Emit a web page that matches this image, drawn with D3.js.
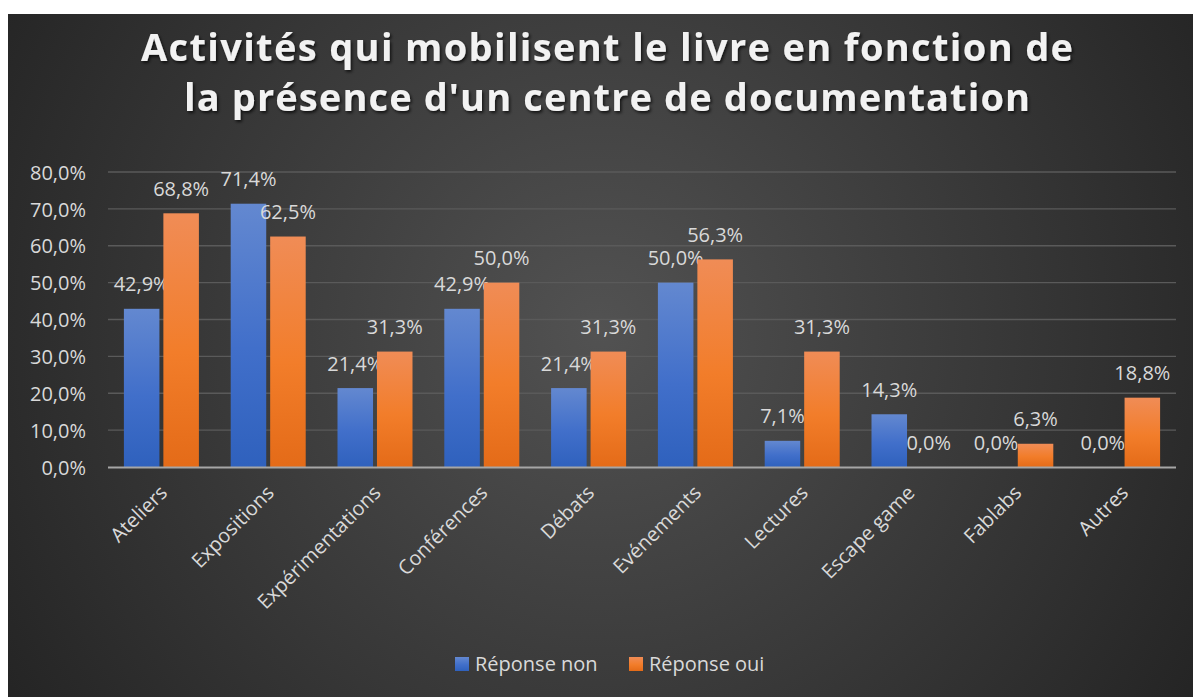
<!DOCTYPE html>
<html>
<head>
<meta charset="utf-8">
<script src="https://cdn.jsdelivr.net/npm/d3@7"></script>
<style>
html,body{margin:0;padding:0;background:#fff;}
svg{display:block;}
</style>
</head>
<body>
<svg id="chart" width="1193" height="697"></svg>
<script>
const categories = ["Ateliers","Expositions","Expérimentations","Conférences","Débats","Evénements","Lectures","Escape game","Fablabs","Autres"];
const seriesNames = ["Réponse non","Réponse oui"];
const valuesNon = [42.9,71.4,21.4,42.9,21.4,50.0,7.1,14.3,0.0,0.0];
const valuesOui = [68.8,62.5,31.3,50.0,31.3,56.3,31.3,0.0,6.3,18.8];
const yTicks = [0,10,20,30,40,50,60,70,80];
const titleLines = ["Activités qui mobilisent le livre en fonction de","la présence d'un centre de documentation"];

const svg = d3.select("#chart");
const W = 1193, H = 697;
const font = "'Open Sans', 'DejaVu Sans', sans-serif";
const fs = 20;

const defs = svg.append("defs");
const bg = defs.append("radialGradient").attr("id","bgGrad")
  .attr("gradientUnits","userSpaceOnUse").attr("cx",600).attr("cy",330).attr("r",720);
bg.append("stop").attr("offset","0%").attr("stop-color","#525252");
bg.append("stop").attr("offset","100%").attr("stop-color","#232323");

const gBlue = defs.append("linearGradient").attr("id","gBlue").attr("x1",0).attr("y1",0).attr("x2",0).attr("y2",1);
gBlue.append("stop").attr("offset","0%").attr("stop-color","#6388d0");
gBlue.append("stop").attr("offset","55%").attr("stop-color","#416fca");
gBlue.append("stop").attr("offset","100%").attr("stop-color","#2f61bd");
const gOr = defs.append("linearGradient").attr("id","gOr").attr("x1",0).attr("y1",0).attr("x2",0).attr("y2",1);
gOr.append("stop").attr("offset","0%").attr("stop-color","#f08c56");
gOr.append("stop").attr("offset","55%").attr("stop-color","#f27d2a");
gOr.append("stop").attr("offset","100%").attr("stop-color","#e46b18");

const shadow = defs.append("filter").attr("id","tshadow").attr("x","-5%").attr("y","-20%").attr("width","110%").attr("height","150%");
shadow.append("feDropShadow").attr("dx",1.5).attr("dy",2).attr("stdDeviation",1.5).attr("flood-color","#000").attr("flood-opacity",0.7);

svg.append("rect").attr("x",8).attr("y",14).attr("width",W-8).attr("height",H-14).attr("fill","url(#bgGrad)");

// Title
const title = svg.append("g").attr("filter","url(#tshadow)");
const tWidths = [932, 846];
titleLines.forEach((t,i)=>{
  title.append("text").attr("x",607).attr("y",61+i*50)
    .attr("text-anchor","middle")
    .attr("font-family",font).attr("font-weight","bold").attr("font-size",38)
    .attr("fill","#f2f2f2")
    .attr("textLength",tWidths[i]).attr("lengthAdjust","spacing")
    .text(t);
});

const margin = {left:108, right:1176, top:172, bottom:467};
const x0 = d3.scaleBand().domain(categories).range([margin.left, margin.right]).paddingInner(0).paddingOuter(0);
const x1 = d3.scaleBand().domain(seriesNames).range([0, 75]).paddingInner(0.1);
const y = d3.scaleLinear().domain([0,80]).range([margin.bottom, margin.top]);

// gridlines
svg.append("g").selectAll("line").data(yTicks.filter(d=>d>0)).join("line")
  .attr("x1",margin.left).attr("x2",margin.right)
  .attr("y1",d=>y(d)).attr("y2",d=>y(d))
  .attr("stroke","#5a5a5a").attr("stroke-width",1.3);

// y axis labels
const fmt = v => d3.format(".1f")(v).replace(".",",") + "%";
const yAxis = d3.axisLeft(y).tickValues(yTicks).tickFormat(fmt).tickSize(0).tickPadding(0);
const ya = svg.append("g").attr("transform","translate(86,0)").call(yAxis);
ya.select(".domain").remove();
ya.selectAll("text").attr("font-family",font).attr("font-size",fs).attr("fill","#d9d9d9").attr("dy","0.36em");

const series = [valuesNon, valuesOui];
const fills = ["url(#gBlue)","url(#gOr)"];
const groupOffset = (x0.bandwidth() - x1.range()[1])/2;

series.forEach((vals, si) => {
  const g = svg.append("g");
  const data = categories.map((c,i)=>({c, v: vals[i]}));
  g.selectAll("rect").data(data).join("rect")
    .attr("x", d => x0(d.c) + groupOffset + x1(seriesNames[si]))
    .attr("width", x1.bandwidth())
    .attr("y", d => y(d.v))
    .attr("height", d => y(0) - y(d.v))
    .attr("fill", fills[si]);
  g.selectAll("text").data(data).join("text")
    .attr("x", d => x0(d.c) + groupOffset + x1(seriesNames[si]) + x1.bandwidth()/2)
    .attr("y", d => y(d.v) - 17.5)
    .attr("text-anchor","middle")
    .attr("font-family",font).attr("font-size",fs).attr("fill","#d9d9d9")
    .text(d => fmt(d.v));
});

// x axis line
svg.append("line").attr("x1",margin.left).attr("x2",margin.right)
  .attr("y1",y(0)+0.5).attr("y2",y(0)+0.5).attr("stroke","#a6a6a6").attr("stroke-width",1.8);

// x labels
const xa = svg.append("g").attr("transform",`translate(0,${y(0)})`)
  .call(d3.axisBottom(x0).tickSize(0).tickPadding(0));
xa.select(".domain").remove();
xa.selectAll("text")
  .attr("font-family",font).attr("font-size",fs).attr("fill","#d9d9d9")
  .attr("text-anchor","end")
  .attr("dy",0).attr("y",0)
  .attr("transform","translate(7,27) rotate(-45)");

// legend
const legend = svg.append("g");
const legItems = [{name:seriesNames[0], fill:fills[0], x:455},{name:seriesNames[1], fill:fills[1], x:629}];
legItems.forEach(it=>{
  legend.append("rect").attr("x",it.x).attr("y",657).attr("width",14).attr("height",14).attr("fill",it.fill);
  legend.append("text").attr("x",it.x+20).attr("y",671)
    .attr("font-family",font).attr("font-size",fs).attr("fill","#d9d9d9").text(it.name);
});
</script>
</body>
</html>
